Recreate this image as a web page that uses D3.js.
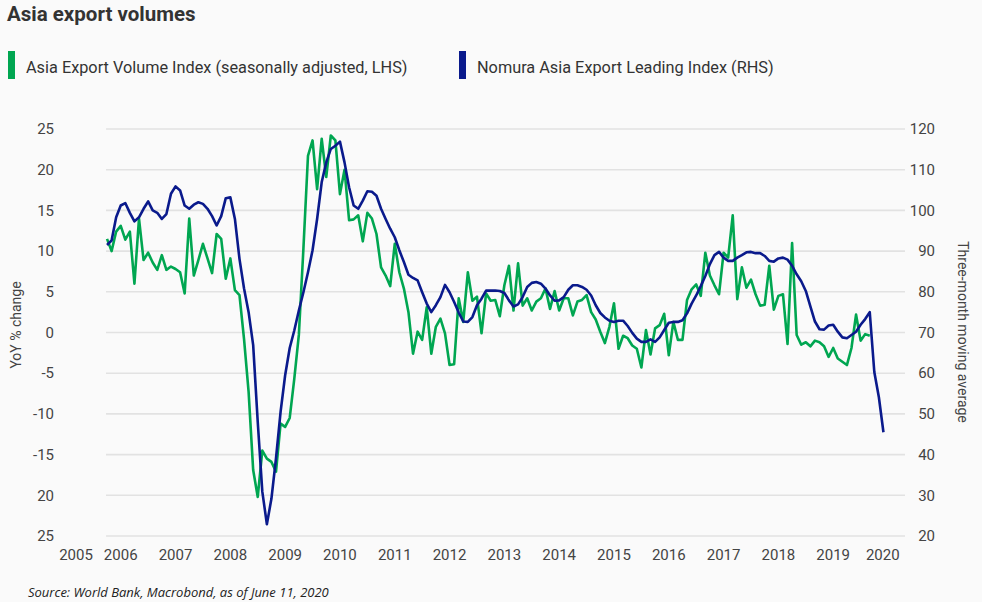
<!DOCTYPE html>
<html lang="en">
  <head>
    <meta charset="UTF-8" />
    <title>Asia export volumes</title>
    <script src="https://d3js.org/d3.v7.min.js"></script>
    <style>
      body { margin: 0; background: #fafafa; }
      svg { display: block; font-family: Roboto, "Liberation Sans", sans-serif; }
      .grid line { stroke: #e2e2e2; stroke-width: 1.6; }
      .tick-label { fill: #444; font-size: 15px; }
    </style>
  </head>
  <body>

    <svg width="982" height="602"></svg>

<script>

// monthly data, first month = April 2006
var startYear = 2006.25

// Asia Export Volume Index, YoY % (LHS)
var exportVolume = [
  11.5, 10.0, 12.4, 13.1, 11.4, 12.4, 6.0, 14.0, 8.9, 9.8, 8.6, 7.7,
  9.5, 7.7, 8.1, 7.8, 7.4, 4.8, 14.0, 7.0, 8.9, 10.9, 9.1, 7.3,
  12.1, 11.5, 6.6, 9.1, 5.2, 4.6, -0.8, -7.3, -16.9, -20.2, -14.5, -15.5,
  -15.9, -17.1, -11.2, -11.6, -10.5, -5.7, -0.3, 10.3, 21.7, 23.6, 17.6, 23.8,
  19.1, 24.2, 23.6, 17.0, 20.0, 13.8, 13.9, 14.4, 11.2, 14.7, 14.0, 12.1,
  8.0, 7.0, 5.7, 10.9, 7.4, 5.4, 2.5, -2.6, 0.1, -0.9, 3.1, -2.6,
  0.7, 1.7, -0.1, -4.0, -3.9, 4.2, 1.3, 7.4, 3.9, 4.4, -0.1, 4.8,
  3.9, 4.0, 2.0, 5.8, 8.2, 2.7, 8.5, 3.3, 4.2, 2.7, 3.8, 4.2,
  5.4, 2.9, 5.1, 2.7, 4.2, 4.2, 2.1, 3.8, 4.0, 4.6, 2.5, 1.6,
  0.1, -1.3, 0.7, 3.6, -2.0, -0.4, -0.7, -1.6, -2.0, -4.3, 0.3, -2.7,
  0.5, 0.9, 2.3, -2.8, 1.3, -0.9, -0.9, 4.0, 5.3, 5.9, 4.5, 9.8,
  7.0, 5.8, 4.7, 9.8, 9.2, 14.4, 4.1, 8.0, 5.5, 6.5, 4.7, 3.3,
  3.4, 8.2, 2.8, 4.5, 4.7, -1.4, 11.0, -0.3, -1.5, -1.2, -1.7, -1.0,
  -1.2, -1.7, -3.0, -1.9, -3.2, -3.6, -4.0, -1.9, 2.2, -1.0, -0.2, -0.4
]

// Nomura Asia Export Leading Index, 3m moving average (RHS)
var leadingIndex = [
  91.5, 92.6, 98.3, 101.2, 101.8, 99.4, 97.3, 98.3, 100.4, 102.2, 100.0, 99.4,
  97.9, 99.1, 104.1, 105.9, 104.9, 101.2, 100.4, 101.4, 102.0, 101.6, 100.4, 98.6,
  96.3, 98.6, 103.0, 103.2, 97.9, 88.1, 80.8, 75.0, 66.9, 48.0, 30.9, 22.9,
  29.2, 39.1, 50.5, 59.5, 66.2, 70.5, 75.4, 79.9, 84.8, 90.2, 97.9, 106.9,
  111.8, 115.1, 115.9, 116.9, 111.8, 105.7, 101.2, 100.4, 102.4, 104.7, 104.6, 103.6,
  100.4, 97.9, 95.5, 93.4, 90.2, 87.3, 84.2, 83.4, 82.8, 79.9, 77.1, 75.0,
  76.7, 78.7, 81.7, 79.9, 77.5, 74.9, 72.7, 72.6, 73.8, 76.7, 78.3, 80.3,
  80.3, 80.3, 80.2, 79.7, 77.9, 76.4, 76.9, 78.7, 81.2, 82.2, 82.4, 82.0,
  80.8, 79.1, 77.8, 77.9, 78.7, 80.5, 81.6, 81.6, 81.2, 80.5, 79.1, 76.7,
  74.8, 73.7, 72.9, 72.6, 72.9, 72.9, 71.6, 69.9, 68.5, 67.7, 67.7, 68.3,
  67.7, 68.8, 70.6, 72.4, 72.6, 72.6, 73.0, 74.7, 77.1, 79.1, 81.4, 83.9,
  86.8, 89.0, 89.8, 88.4, 87.6, 87.6, 88.4, 89.0, 89.7, 89.8, 89.5, 89.5,
  88.8, 87.6, 87.4, 88.2, 88.4, 87.9, 86.4, 84.3, 82.6, 80.2, 76.4, 72.7,
  70.8, 70.7, 71.7, 71.9, 70.2, 68.8, 68.6, 69.4, 70.2, 71.9, 73.3, 75.0,
  60.3, 54.1, 45.5
]

var years = d3.range(2005, 2021)
var leftTicks = [25, 20, 15, 10, 5, 0, -5, -10, -15, -20, -25]
var leftTickLabels = ["25", "20", "15", "10", "5", "0", "-5", "-10", "-15", "20", "25"]
var rightTicks = [120, 110, 100, 90, 80, 70, 60, 50, 40, 30, 20]

var svg = d3.select("svg")

var xScale = d3.scaleLinear().domain([2005.37, 2020.81]).range([58.8, 905]),
    yLeft = d3.scaleLinear().domain([-25, 25]).range([536, 129]),
    yRight = d3.scaleLinear().domain([20, 120]).range([536, 129])

function monthX(d, i) { return xScale(startYear + i / 12) }

// title + legend
svg.append("text")
   .attr("x", 7)
   .attr("y", 21)
   .attr("font-size", "20.5px")
   .attr("font-weight", "bold")
   .attr("fill", "#333")
   .text("Asia export volumes")

var legend = [
  { name: "Asia Export Volume Index (seasonally adjusted, LHS)", color: "#00a651", x: 8 },
  { name: "Nomura Asia Export Leading Index (RHS)", color: "#0a1a8c", x: 459 }
]
var lg = svg.selectAll(".legend").data(legend).enter().append("g")
lg.append("rect")
  .attr("x", function(d) { return d.x })
  .attr("y", 51)
  .attr("width", 7)
  .attr("height", 28)
  .attr("fill", function(d) { return d.color })
lg.append("text")
  .attr("x", function(d) { return d.x + 18 })
  .attr("y", 73)
  .attr("font-size", "16.3px")
  .attr("fill", "#333")
  .text(function(d) { return d.name })

// grid
var gridStart = xScale(startYear) - 1
svg.append("g").attr("class", "grid")
   .selectAll("line")
   .data(leftTicks)
   .enter().append("line")
   .attr("x1", gridStart)
   .attr("x2", 905)
   .attr("y1", function(d) { return yLeft(d) })
   .attr("y2", function(d) { return yLeft(d) })

// left axis labels
svg.append("g")
   .selectAll("text")
   .data(leftTicks)
   .enter().append("text")
   .attr("class", "tick-label")
   .attr("x", 54)
   .attr("y", function(d) { return yLeft(d) })
   .attr("dy", "0.35em")
   .attr("text-anchor", "end")
   .text(function(d, i) { return leftTickLabels[i] })

// right axis labels
svg.append("g")
   .selectAll("text")
   .data(rightTicks)
   .enter().append("text")
   .attr("class", "tick-label")
   .attr("x", 935)
   .attr("y", function(d) { return yRight(d) })
   .attr("dy", "0.35em")
   .attr("text-anchor", "end")
   .text(function(d) { return d })

// x axis year labels, centred on the visible part of each year
var d0 = xScale.domain()[0], d1 = xScale.domain()[1]
svg.append("g")
   .selectAll("text")
   .data(years)
   .enter().append("text")
   .attr("class", "tick-label")
   .attr("x", function(d) { return (xScale(Math.max(d, d0)) + xScale(Math.min(d + 1, d1))) / 2 })
   .attr("y", 560)
   .attr("text-anchor", "middle")
   .text(function(d) { return d })

// axis titles
svg.append("text")
   .attr("transform", "translate(21,325) rotate(-90)")
   .attr("text-anchor", "middle")
   .attr("font-size", "14px")
   .attr("fill", "#444")
   .text("YoY % change")

svg.append("text")
   .attr("transform", "translate(958,332) rotate(90)")
   .attr("text-anchor", "middle")
   .attr("font-size", "14px")
   .attr("fill", "#444")
   .text("Three-month moving average")

// lines
var greenLine = d3.line().x(monthX).y(function(d) { return yLeft(d) })
var blueLine = d3.line().x(monthX).y(function(d) { return yRight(d) })

svg.append("path")
   .datum(exportVolume)
   .attr("fill", "none")
   .attr("stroke", "#00a651")
   .attr("stroke-width", 2.6)
   .attr("stroke-linejoin", "round")
   .attr("d", greenLine)

svg.append("path")
   .datum(leadingIndex)
   .attr("fill", "none")
   .attr("stroke", "#0a1a8c")
   .attr("stroke-width", 2.6)
   .attr("stroke-linejoin", "round")
   .attr("d", blueLine)

// source
svg.append("text")
   .attr("x", 28)
   .attr("y", 597)
   .attr("font-family", "'Open Sans', sans-serif")
   .attr("font-style", "italic")
   .attr("font-size", "13px")
   .attr("fill", "#222")
   .text("Source: World Bank, Macrobond, as of June 11, 2020")

</script>

  </body>
</html>
